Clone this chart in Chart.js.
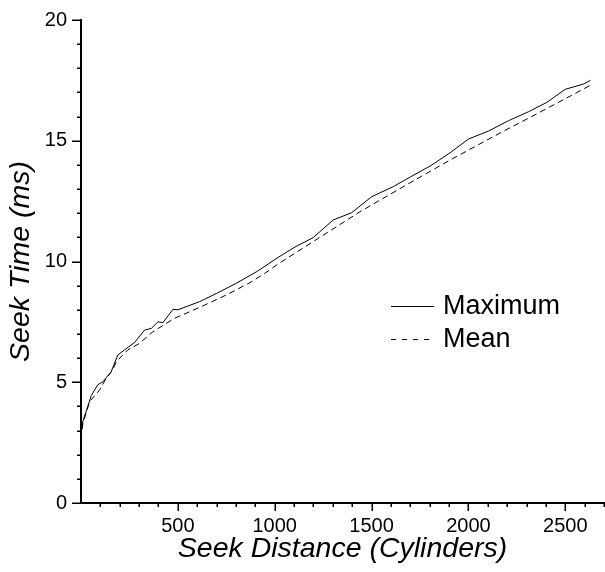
<!DOCTYPE html>
<html>
<head>
<meta charset="utf-8">
<script src="https://cdn.jsdelivr.net/npm/chart.js@4/dist/chart.umd.min.js"></script>
<style>
  html, body { margin: 0; padding: 0; background: #fff; }
  #wrap { width: 605px; height: 572px; position: relative; }
</style>
</head>
<body>
<div id="wrap"><canvas id="seekChart"></canvas></div>
<script>
// Seek distance (cylinders) and seek time (ms)
const maxDistance = [0, 2, 9, 35, 53, 87, 113, 156, 190, 225, 277, 328, 363, 397, 423, 475, 500, 613, 700, 802, 907, 1018, 1100, 1199, 1302, 1397, 1500, 1612, 1700, 1802, 1905, 2000, 2103, 2207, 2310, 2405, 2500, 2595, 2630];
const maxTime = [1.0, 2.95, 3.37, 4.0, 4.45, 4.9, 5.02, 5.44, 6.13, 6.34, 6.65, 7.16, 7.23, 7.5, 7.47, 8.02, 8.0, 8.34, 8.68, 9.1, 9.58, 10.17, 10.58, 10.99, 11.72, 12.02, 12.68, 13.1, 13.5, 13.95, 14.5, 15.07, 15.4, 15.83, 16.2, 16.59, 17.13, 17.35, 17.5];

const meanDistance = [0, 2, 10, 44, 96, 130, 164, 182, 216, 242, 300, 371, 483, 561, 639, 716, 793, 871, 949, 1018, 1190, 1440, 1699, 1905, 2009, 2112, 2215, 2319, 2422, 2526, 2630];
const meanTime = [1.0, 2.8, 3.3, 4.19, 4.68, 5.16, 5.51, 5.85, 6.13, 6.34, 6.6, 7.09, 7.65, 7.92, 8.2, 8.48, 8.79, 9.12, 9.51, 9.9, 10.78, 12.06, 13.26, 14.2, 14.65, 15.1, 15.54, 15.97, 16.41, 16.85, 17.3];

const seriesNames = ['Maximum', 'Mean'];
const xTickLabels = [500, 1000, 1500, 2000, 2500];
const yTickLabels = [0, 5, 10, 15, 20];

function toPoints(xs, ys) {
  return xs.map((x, i) => ({ x: x, y: ys[i] }));
}

Chart.defaults.font.family = '"Liberation Sans", Arial, sans-serif';
Chart.defaults.color = '#000';

// minor + major tick marks drawn outside the axes
const tickMarks = {
  id: 'tickMarks',
  afterDraw(chart) {
    const ctx = chart.ctx;
    const xs = chart.scales.x, ys = chart.scales.y;
    const area = chart.chartArea;
    ctx.save();
    ctx.strokeStyle = '#000';
    ctx.lineWidth = 1.5;
    ctx.beginPath();
    for (let v = 100; v <= 2700; v += 100) {
      const px = Math.round(xs.getPixelForValue(v)) + 0.25;
      const len = v % 500 === 0 ? 8 : 4;
      ctx.moveTo(px, area.bottom);
      ctx.lineTo(px, area.bottom + len);
    }
    for (let v = 0; v <= 20; v += 1) {
      const py = Math.round(ys.getPixelForValue(v)) + 0.25;
      const len = v % 5 === 0 ? 9 : 4;
      ctx.moveTo(area.left, py);
      ctx.lineTo(area.left - len, py);
    }
    ctx.stroke();
    ctx.restore();
  }
};

// legend sitting inside the plot area
const innerLegend = {
  id: 'innerLegend',
  afterDraw(chart) {
    const ctx = chart.ctx;
    ctx.save();
    ctx.strokeStyle = '#000';
    ctx.fillStyle = '#000';
    ctx.lineWidth = 1;
    ctx.font = '27px "Liberation Sans", Arial, sans-serif';
    ctx.textBaseline = 'middle';
    const rows = [306, 339];
    const dashes = [[], [5, 6]];
    chart.data.datasets.forEach((ds, i) => {
      const y = rows[i] + 0.5;
      ctx.setLineDash(dashes[i]);
      ctx.beginPath();
      ctx.moveTo(391, y);
      ctx.lineTo(434, y);
      ctx.stroke();
      ctx.setLineDash([]);
      ctx.fillText(ds.label, 443, rows[i] + 1);
    });
    ctx.restore();
  }
};

const ctx = document.getElementById('seekChart').getContext('2d');
new Chart(ctx, {
  type: 'line',
  data: {
    datasets: [
      {
        label: seriesNames[0],
        data: toPoints(maxDistance, maxTime),
        borderColor: '#000',
        borderWidth: 1,
        pointRadius: 0,
        tension: 0,
        fill: false
      },
      {
        label: seriesNames[1],
        data: toPoints(meanDistance, meanTime),
        borderColor: '#000',
        borderWidth: 1,
        borderDash: [6, 4],
        pointRadius: 0,
        tension: 0,
        fill: false
      }
    ]
  },
  options: {
    responsive: true,
    maintainAspectRatio: false,
    animation: false,
    layout: { padding: { top: 20, right: 1, left: 0, bottom: 0 } },
    plugins: {
      legend: { display: false },
      tooltip: { enabled: false }
    },
    scales: {
      x: {
        type: 'linear',
        min: 0,
        max: 2700,
        border: { display: true, color: '#000', width: 2 },
        grid: { display: true, drawOnChartArea: false, drawTicks: true, tickLength: 8, tickColor: 'rgba(0,0,0,0)' },
        afterBuildTicks: (scale) => { scale.ticks = xTickLabels.map(v => ({ value: v })); },
        ticks: {
          autoSkip: false,
          maxRotation: 0,
          padding: 3,
          font: { size: 20 },
          callback: (v) => String(v)
        },
        title: {
          display: true,
          text: 'Seek Distance (Cylinders)',
          font: { size: 28.5, style: 'italic' },
          padding: { top: 0, bottom: 6 }
        },
        afterFit: (scale) => { scale.height = 69; }
      },
      y: {
        min: 0,
        max: 20,
        border: { display: true, color: '#000', width: 2 },
        grid: { display: true, drawOnChartArea: false, drawTicks: true, tickLength: 9, tickColor: 'rgba(0,0,0,0)' },
        afterBuildTicks: (scale) => { scale.ticks = yTickLabels.map(v => ({ value: v })); },
        ticks: {
          padding: 5,
          font: { size: 20 },
          callback: (v) => String(v)
        },
        title: {
          display: true,
          text: 'Seek Time (ms)',
          font: { size: 28.5, style: 'italic' },
          padding: { top: 4, bottom: 0 }
        },
        afterFit: (scale) => { scale.width = 81; }
      }
    }
  },
  plugins: [tickMarks, innerLegend]
});
</script>
</body>
</html>
